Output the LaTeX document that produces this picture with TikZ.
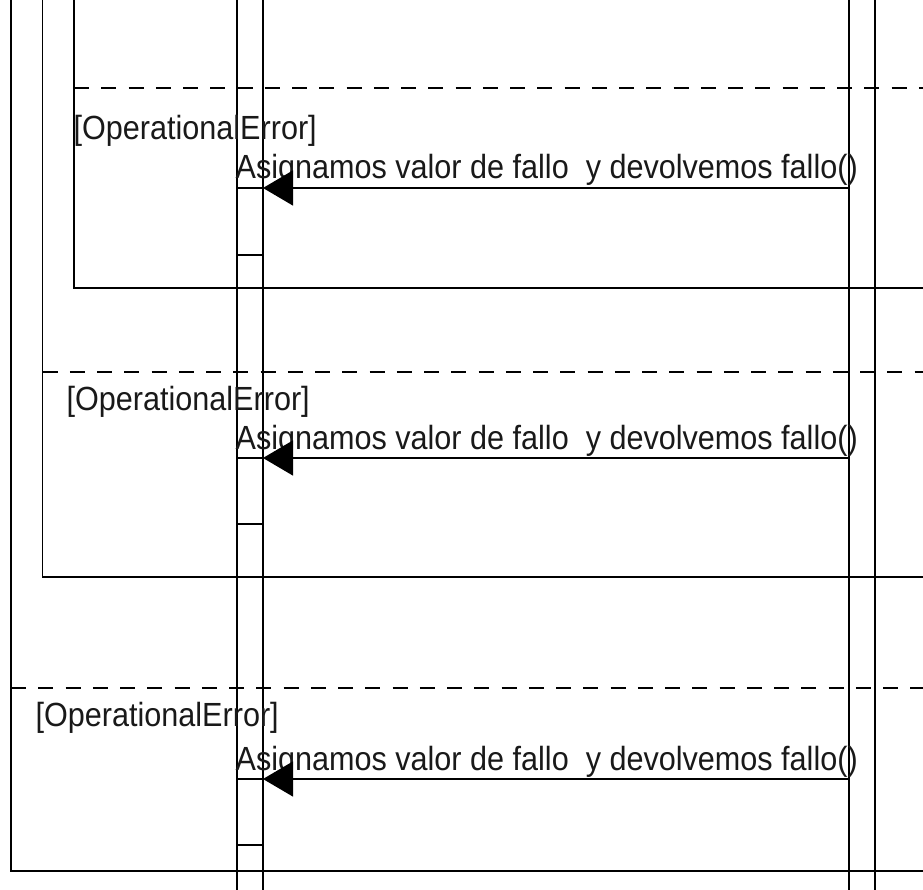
\documentclass[tikz,border=0pt]{standalone}
\usepackage{fontspec}
\setmainfont{Liberation Sans}[FakeStretch=0.913]
\usetikzlibrary{arrows.meta}
\begin{document}
\begin{tikzpicture}[x=1pt,y=-1pt,line width=1.3pt,
  guard/.style={dash pattern=on 15pt off 12.25pt},
  lbl/.style={anchor=base west,inner sep=0pt,font=\fontsize{33.5}{40}\selectfont,text=black!90},
  msgarrow/.style={-{Triangle[length=30pt,width=35pt]}}]
\useasboundingbox (0,0) rectangle (923,890);
% lifelines / activation bars
\coordinate (la) at (237,0); \coordinate (la') at (237,890);
\coordinate (lb) at (263,0); \coordinate (lb') at (263,890);
\coordinate (ra) at (849,0); \coordinate (ra') at (849,890);
\coordinate (rb) at (875,0); \coordinate (rb') at (875,890);
\draw (la) -- (la'); \draw (lb) -- (lb');
\draw (ra) -- (ra'); \draw (rb) -- (rb');
% combined fragments
\foreach \i/\fx/\dy/\by/\lx/\ly/\my/\ay/\bb in {
  1/74/88/288/73/140/179/188/255,
  2/42.5/372/577/66/410/449/458/524,
  3/11/688/871/35/726/770/779/845}{
  \coordinate (ft\i) at (\fx,0);
  \coordinate (fb\i) at (\fx,\by);
  \coordinate (fr\i) at (923,\by);
  \coordinate (dl\i) at (\fx,\dy);
  \coordinate (dr\i) at (923,\dy);
  \draw (ft\i) -- (fb\i) -- (fr\i);
  \draw[guard] (dl\i) -- (dr\i);
  \node[lbl] (g\i) at (\lx,\ly) {[OperationalError]};
  \node[lbl] (m\i) at (235,\my) {Asignamos valor de fallo\ \ y devolvemos fallo()};
  \coordinate (src\i) at (849,\ay);
  \coordinate (dst\i) at (263,\ay);
  \coordinate (bt\i) at (237,\ay);
  \coordinate (bbl\i) at (237,\bb);
  \coordinate (bbr\i) at (263,\bb);
  \draw[msgarrow] (src\i) -- (dst\i);
  \draw (bt\i) -- (dst\i);
  \draw (bbl\i) -- (bbr\i);
}
\end{tikzpicture}
\end{document}
